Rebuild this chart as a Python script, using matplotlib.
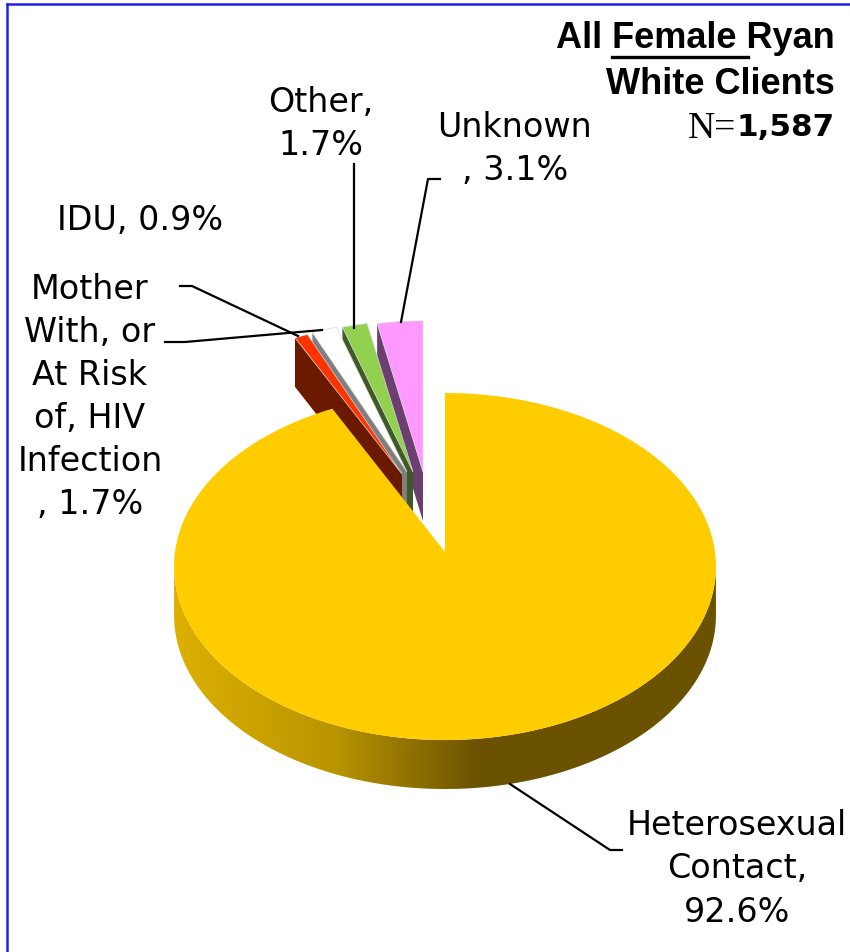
import numpy as np
import matplotlib
matplotlib.use('Agg')
import matplotlib.pyplot as plt
from matplotlib.colors import LinearSegmentedColormap
from matplotlib.patches import Polygon

plt.rcParams['font.family'] = ['DejaVu Sans']

categories = ['Heterosexual Contact', 'IDU', 'Mother With, or At Risk of, HIV Infection', 'Other', 'Unknown']
values = [92.6, 0.9, 1.7, 1.7, 3.1]
labels = ['Heterosexual\nContact,\n92.6%', 'IDU, 0.9%',
          'Mother\nWith, or\nAt Risk\nof, HIV\nInfection\n, 1.7%',
          'Other,\n1.7%', 'Unknown\n, 3.1%']

colors = ['#FFCC00', '#FF3300', '#FFFFFF', '#92D050', '#FF99FF']
side_colors = [None, '#6B1A00', '#7F7F7F', '#3F5A24', '#6B3F70']
# where each exploded slice has its point, in pixels
apex = [(445, 553), (402, 475), (407, 473), (413, 473), (423, 473)]
slice_scale = [1, 0.95, 0.95, 0.95, 0.95]
label_pos = [(321, 124), (515, 149), (140, 220), (90, 397), (737, 869)]
label_idx = [3, 4, 1, 2, 0]
leaders = [[(510, 785), (610, 851), (622, 851)],
           [(180, 287), (192, 287), (298, 337)],
           [(165, 343), (185, 343), (322, 331)],
           [(354, 165), (354, 329)],
           [(440, 180), (428, 180), (401, 323)]]

A, B, K = 270.0, 172.3, 0.0836
DEPTH = 49
FS = 24
TITLE_FONT = 'Liberation Sans'
TITLE_FS = 26


def project(deg, scale=1.0):
    # tilted circle with a bit of perspective, angle clockwise from 12 o'clock
    t = np.radians(deg)
    d = 1 + K * np.cos(t)
    return scale * A * np.sin(t) / d, -scale * B * np.cos(t) / d


def arc(start, end, cx, cy, scale=1.0):
    dx, dy = project(np.linspace(start, end, 300), scale)
    return np.column_stack([cx + dx, cy + dy])


fig = plt.figure(figsize=(8.5, 9.53), dpi=100)
ax = fig.add_axes([0, 0, 1, 1])

edges = np.cumsum([0] + values) / sum(values) * 360

# small slices right to left, the big one goes over their lower ends
for i in range(len(values) - 1, 0, -1):
    cx, cy = apex[i]
    pts = arc(edges[i], edges[i + 1], cx, cy, slice_scale[i])
    side = [tuple(pts[0]), (cx, cy), (cx, cy + DEPTH), (pts[0][0], pts[0][1] + DEPTH)]
    z = 2 + (len(values) - i) * 0.1
    ax.add_patch(Polygon(side, closed=True, fc=side_colors[i], ec='none', zorder=z))
    top = np.vstack([[cx, cy], pts])
    ax.add_patch(Polygon(top, closed=True, fc=colors[i], ec='#d8d8d8', lw=0.5, zorder=z + 0.05))

# rim of the big slice, shaded left to right
cx, cy = apex[0]
front = arc(94.8, 265.2, cx, cy)
rim = np.vstack([front, (front + [0, DEPTH])[::-1]])
rim_patch = Polygon(rim, closed=True, fc='none', ec='none')
ax.add_patch(rim_patch)
rim_cmap = LinearSegmentedColormap.from_list('rim', [(0, '#DDB000'), (0.3, '#B89400'), (0.56, '#6B5200'), (1, '#6B5200')])
grad = ax.imshow(np.linspace(0, 1, 512).reshape(1, -1), cmap=rim_cmap, aspect='auto',
                 extent=(174, 716, 800, 550), zorder=4)
grad.set_clip_path(rim_patch)

big = np.vstack([[cx, cy], arc(edges[0], edges[1], cx, cy)])
ax.add_patch(Polygon(big, closed=True, fc=colors[0], ec='none', zorder=5))
ax.plot([cx, cx], [cy, cy - 159], color='#cfcfcf', lw=0.8, zorder=4.5)

for line in leaders:
    xs, ys = zip(*line)
    ax.plot(xs, ys, color='black', lw=1.6, zorder=6)

for (x, y), i in zip(label_pos, label_idx):
    ax.text(x, y, labels[i], ha='center', va='center', fontsize=FS, linespacing=1.39, color='black')

# title block
ax.text(835, 39, 'All Female Ryan', ha='right', va='center', fontsize=TITLE_FS, fontweight='bold', family=TITLE_FONT)
ax.text(835, 84, 'White Clients', ha='right', va='center', fontsize=TITLE_FS, fontweight='bold', family=TITLE_FONT)
ax.text(835, 128, '1,587', ha='right', va='center', fontsize=22.4, fontweight='bold')
ax.text(736, 129, 'N=', ha='right', va='center', fontsize=27, family='Liberation Serif')
ax.plot([612, 748], [58, 58], color='black', lw=2.4)

# blue frame, only top and left show
ax.plot([7, 850], [5, 5], color='#2020EE', lw=1.8)
ax.plot([7, 7], [5, 953], color='#2020EE', lw=1.8)

ax.set_xlim(0, 850)
ax.set_ylim(953, 0)
ax.axis('off')
fig.savefig('out.png', dpi=100)
